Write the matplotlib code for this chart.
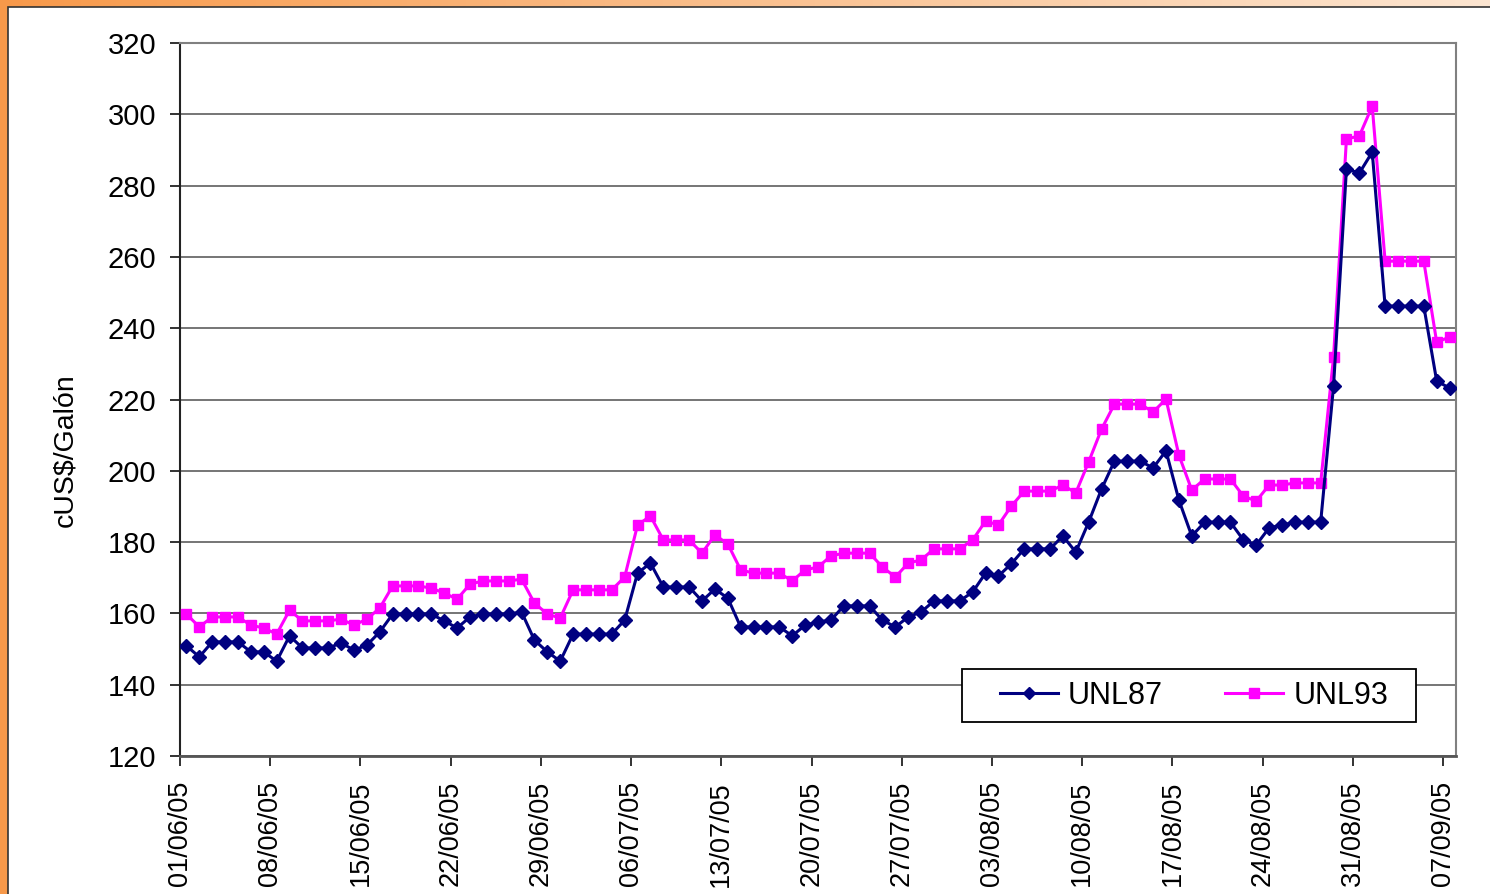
import numpy as np
import matplotlib
matplotlib.use("Agg")
import matplotlib.pyplot as plt
from matplotlib.patches import Rectangle

plt.rcParams['font.family'] = ['Liberation Sans', 'DejaVu Sans']

# ---- data (daily, 01/06/05 .. 07/09/05) ----
unl87 = [150.9, 147.8, 152.0, 152.0, 152.0, 149.2, 149.2, 146.6, 153.7, 150.3,
         150.3, 150.3, 151.7, 149.7, 151.1, 154.8, 159.8, 159.8, 159.8, 159.8,
         157.9, 155.9, 159.0, 159.8, 159.8, 159.8, 160.4, 152.5, 149.2, 146.6,
         154.2, 154.2, 154.2, 154.2, 158.1, 171.3, 174.1, 167.4, 167.4, 167.4,
         163.5, 166.8, 164.3, 156.2, 156.2, 156.2, 156.2, 153.7, 156.7, 157.6,
         158.1, 162.1, 162.1, 162.1, 158.1, 156.2, 159.0, 160.4, 163.5, 163.5,
         163.5, 166.0, 171.3, 170.5, 173.9, 178.1, 178.1, 178.1, 181.7, 177.2,
         185.6, 194.9, 202.7, 202.7, 202.7, 200.8, 205.6, 191.8, 181.7, 185.6,
         185.6, 185.6, 180.6, 179.2, 184.0, 184.8, 185.6, 185.6, 185.6, 223.8,
         284.7, 283.5, 289.4, 246.2, 246.2, 246.2, 246.2, 225.2, 223.2]
unl93 = [159.8, 156.2, 159.0, 159.0, 159.0, 156.7, 155.9, 154.2, 160.9, 157.9,
         157.9, 157.9, 158.4, 156.7, 158.4, 161.5, 167.7, 167.7, 167.7, 167.1,
         165.7, 164.0, 168.2, 169.1, 169.1, 169.1, 169.6, 162.9, 159.8, 158.7,
         166.6, 166.6, 166.6, 166.6, 170.2, 184.8, 187.3, 180.6, 180.6, 180.6,
         176.9, 182.0, 179.5, 172.2, 171.3, 171.3, 171.3, 169.1, 172.2, 173.0,
         176.1, 176.9, 176.9, 176.9, 173.0, 170.2, 174.1, 175.0, 178.1, 178.1,
         178.1, 180.6, 185.9, 184.8, 190.1, 194.3, 194.3, 194.3, 196.0, 193.8,
         202.5, 211.7, 218.7, 218.7, 218.7, 216.5, 220.1, 204.4, 194.6, 197.7,
         197.7, 197.7, 192.9, 191.5, 196.0, 196.0, 196.6, 196.6, 196.6, 231.9,
         293.1, 293.9, 302.3, 258.8, 258.8, 258.8, 258.8, 236.1, 237.5]
date_labels = ['01/06/05', '08/06/05', '15/06/05', '22/06/05', '29/06/05',
               '06/07/05', '13/07/05', '20/07/05', '27/07/05', '03/08/05',
               '10/08/05', '17/08/05', '24/08/05', '31/08/05', '07/09/05']
y_ticks = [120, 140, 160, 180, 200, 220, 240, 260, 280, 300, 320]
series_names = ['UNL87', 'UNL93']
y_label = 'cUS$/Galón'

W, H = 1490, 894
fig = plt.figure(figsize=(W / 100, H / 100), dpi=100)

# ---- background frame (orange border with gradient on top) ----
bg = fig.add_axes([0, 0, 1, 1], zorder=-10)
bg.set_axis_off()
c0 = np.array([0.97, 0.60, 0.29])
c1 = np.array([0.99, 0.90, 0.82])
t = np.linspace(0, 1, 256)[None, :, None]
grad = c0 * (1 - t) + c1 * t
bg.imshow(grad, extent=[0, 1, 0, 1], aspect='auto')
bg.add_patch(Rectangle((0, 0), 8 / W, 1, color=c0, transform=bg.transAxes))
bg.add_patch(Rectangle((8 / W, -0.05), 1.1, 1 - 7 / H + 0.05, facecolor='white',
                       edgecolor='#333333', linewidth=1.2, transform=bg.transAxes))
bg.set_xlim(0, 1)
bg.set_ylim(0, 1)

# ---- main axes ----
L, R, T, B = 180, 1456, 43, 756
ax = fig.add_axes([L / W, (H - B) / H, (R - L) / W, (B - T) / H])
ax.set_facecolor('white')

x = np.arange(len(unl87))
ax.plot(x, unl87, color='#000080', lw=2.2, marker='D', markersize=6.8,
        markeredgecolor='#000080', label=series_names[0], zorder=4)
ax.plot(x, unl93, color='#FF00FF', lw=2.2, marker='s', markersize=7.5,
        markeredgecolor='#FF00FF', label=series_names[1], zorder=3)

ax.set_xlim(-0.5, len(unl87) - 0.5)
ax.set_ylim(120, 320)
ax.set_yticks(y_ticks)
ax.set_yticklabels([str(v) for v in y_ticks], fontsize=21)
ax.yaxis.grid(True, color='#6a6a6a', lw=1.3)
ax.set_axisbelow(True)

tick_pos = [7 * k - 0.5 for k in range(len(date_labels))]
ax.set_xticks(tick_pos)
ax.set_xticklabels(date_labels, rotation=90, fontsize=19.5, va='top', ha='center')

ax.tick_params(axis='y', length=7, width=1.3, pad=10, color='#222222')
ax.tick_params(axis='x', length=7, width=1.3, pad=11, color='#222222')

for s in ['top', 'right']:
    ax.spines[s].set_color('#808080')
    ax.spines[s].set_linewidth(1.5)
ax.spines['left'].set_color('#222222')
ax.spines['left'].set_linewidth(1.5)
ax.spines['bottom'].set_color('#555555')
ax.spines['bottom'].set_linewidth(2.0)

fig.text(65 / W, 1 - 450 / H, y_label, rotation=90, ha='center', va='center',
         fontsize=20.5)

# legend: manual frame + frameless legend
def ax_xy(px, py):
    return (px - L) / (R - L), (B - py) / (B - T)

x0, y0 = ax_xy(962, 722)
x1, y1 = ax_xy(1416, 669)
ax.add_patch(Rectangle((x0, y0), x1 - x0, y1 - y0, transform=ax.transAxes,
                       facecolor='white', edgecolor='black', linewidth=1.3, zorder=5))
leg = ax.legend(loc='center', bbox_to_anchor=ax_xy(1194, 695.5),
                ncol=2, fontsize=22, frameon=False,
                handlelength=1.9, handletextpad=0.33, columnspacing=2.05,
                borderpad=0.0, borderaxespad=0)
leg.set_zorder(6)
for h in leg.legend_handles:
    h.set_markersize(6.5)

fig.savefig('out.png', dpi=100)
